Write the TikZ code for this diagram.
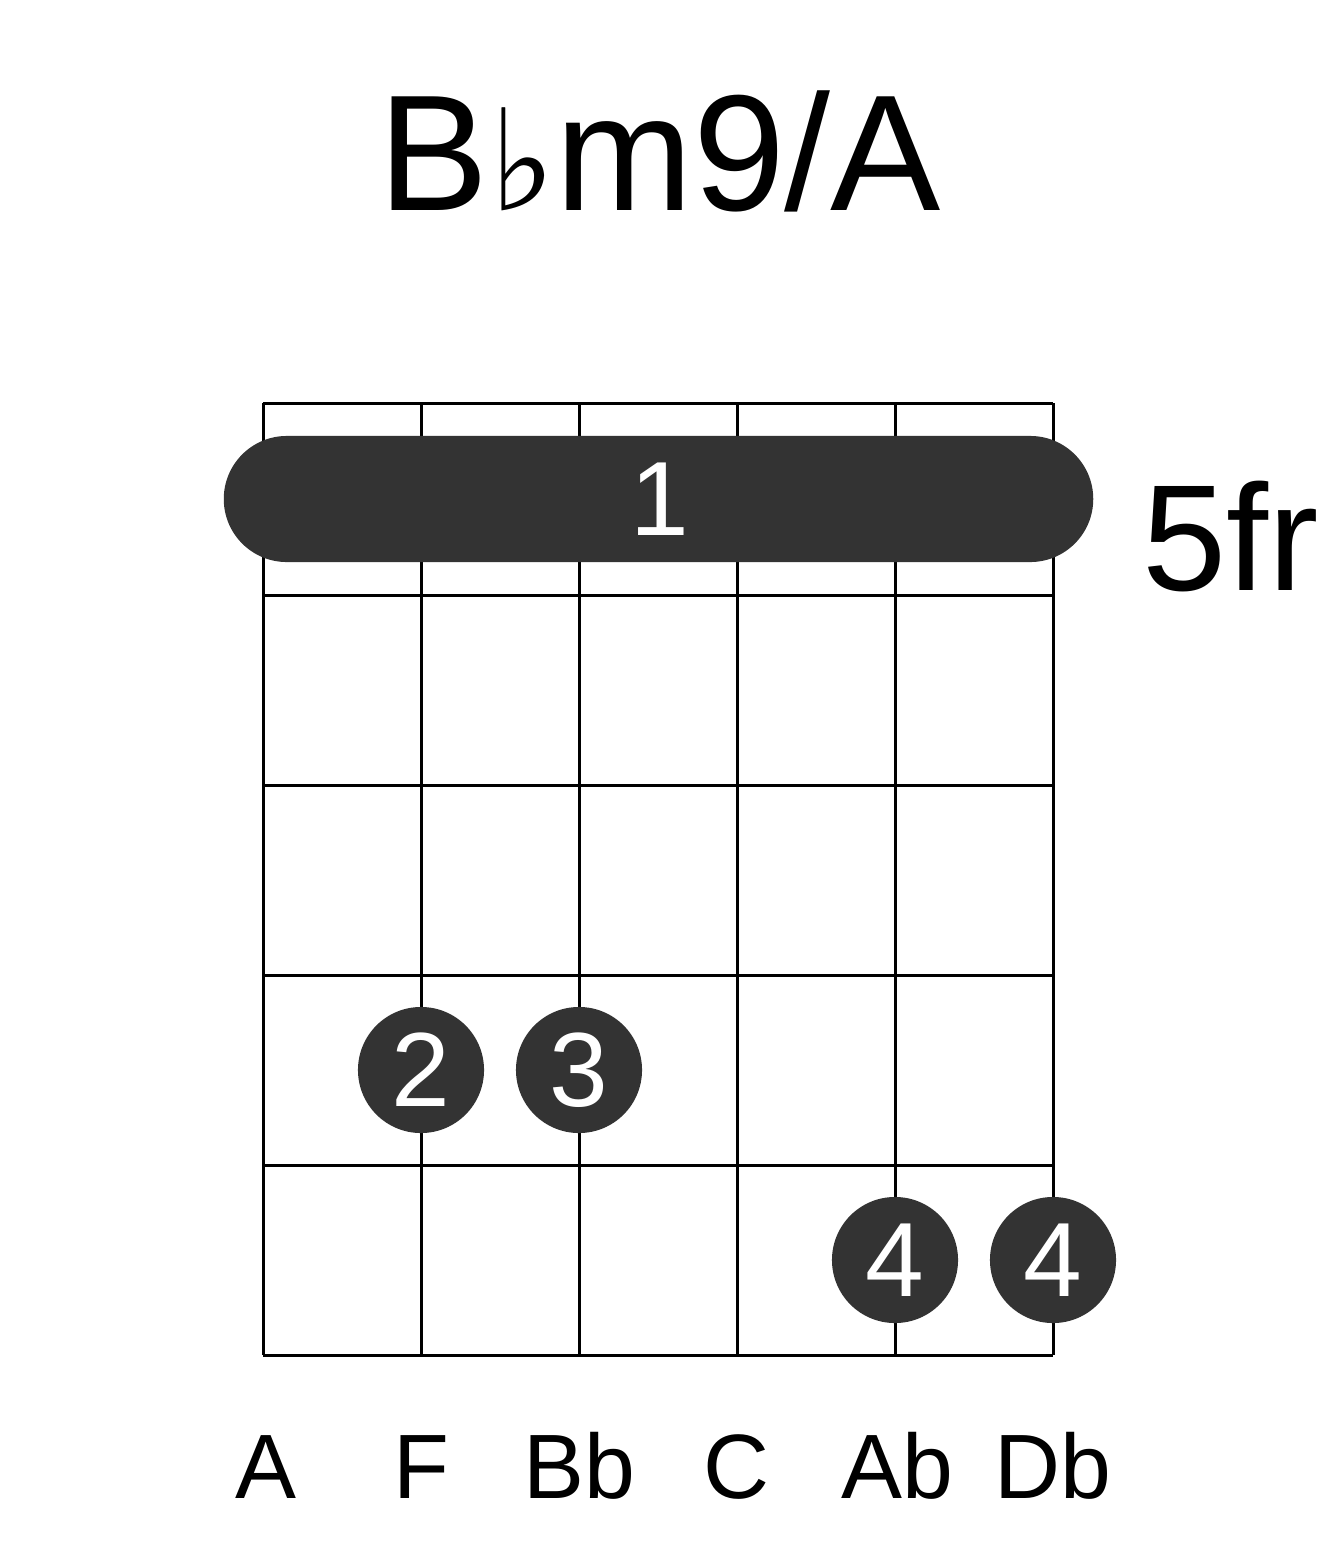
\documentclass[tikz,border=0pt]{standalone}
\usepackage{fontspec}
\setmainfont{Liberation Sans}
\newfontfamily\symfont{DejaVu Sans}
\begin{document}
\begin{tikzpicture}[x=0.01cm,y=-0.01cm,
  gridline/.style={line width=0.03cm,black},
  dot/.style={circle,fill=black!80,minimum size=1.26cm,inner sep=0pt,text=white,font=\fontsize{30}{30}\selectfont},
  lab/.style={anchor=base,font=\fontsize{26}{26}\selectfont}]
\useasboundingbox (0,0) rectangle (1317,1551);
\node[anchor=base,font=\fontsize{47}{47}\selectfont] (title) at (660,210) {B{\symfont\fontsize{40}{40}\selectfont ♭}m9/A};
\foreach \x in {263,421,579,737,895,1053} \draw[gridline] (\x,403) -- (\x,1355);
\foreach \y in {403,595,785,975,1165,1355} \draw[gridline] (263,\y) -- (1053,\y);
\node[fill=black!80,rounded corners=0.63cm,minimum width=8.69cm,minimum height=1.26cm,inner sep=0pt] (barre) at (658.5,499) {};
\node[anchor=base,text=white,font=\fontsize{30}{30}\selectfont] (b1) at (660,535) {1};
\node[dot] (d2) at (421,1070) {2};
\node[dot] (d3) at (579,1070) {3};
\node[dot] (d4a) at (895,1260) {4};
\node[dot] (d4b) at (1053,1260) {4};
\node[anchor=base west,font=\fontsize{43}{43}\selectfont] (fr) at (1130,590) {5fr};
\node[lab] (s1) at (266,1498) {A};
\node[lab] (s2) at (421,1498) {F};
\node[lab] (s3) at (579,1498) {Bb};
\node[lab] (s4) at (737,1498) {C};
\node[lab] (s5) at (897,1498) {Ab};
\node[lab] (s6) at (1053,1498) {Db};
\end{tikzpicture}
\end{document}
